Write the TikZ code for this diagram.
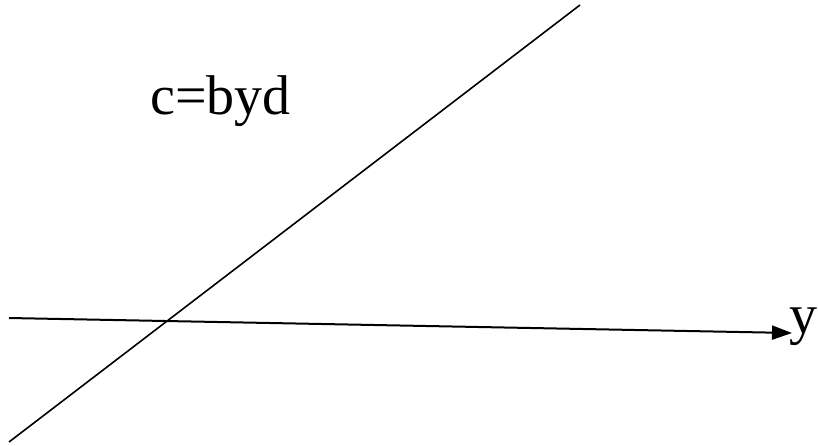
\documentclass[tikz,border=0pt]{standalone}
\usepackage{fontspec}
\setmainfont{Liberation Serif}
\usetikzlibrary{arrows.meta}
\begin{document}
\begin{tikzpicture}[x=1pt,y=-1pt,
  axisline/.style={line width=2pt},
  lbl/.style={font=\fontsize{56}{60}\selectfont, inner sep=0pt, anchor=base west}]
\useasboundingbox (0,0) rectangle (818,445);
\coordinate (a1) at (9,318);
\coordinate (a2) at (792,333);
\coordinate (d1) at (9,442);
\coordinate (d2) at (580,5);
\draw[axisline,-{Triangle[length=20pt,width=14pt]}] (a1) -- (a2);
\draw[line width=1.6pt] (d1) -- (d2);
\node[lbl] (ylab) at (789,333) {y};
\node[lbl] (eq) at (150,114) {c=byd};
\end{tikzpicture}
\end{document}
